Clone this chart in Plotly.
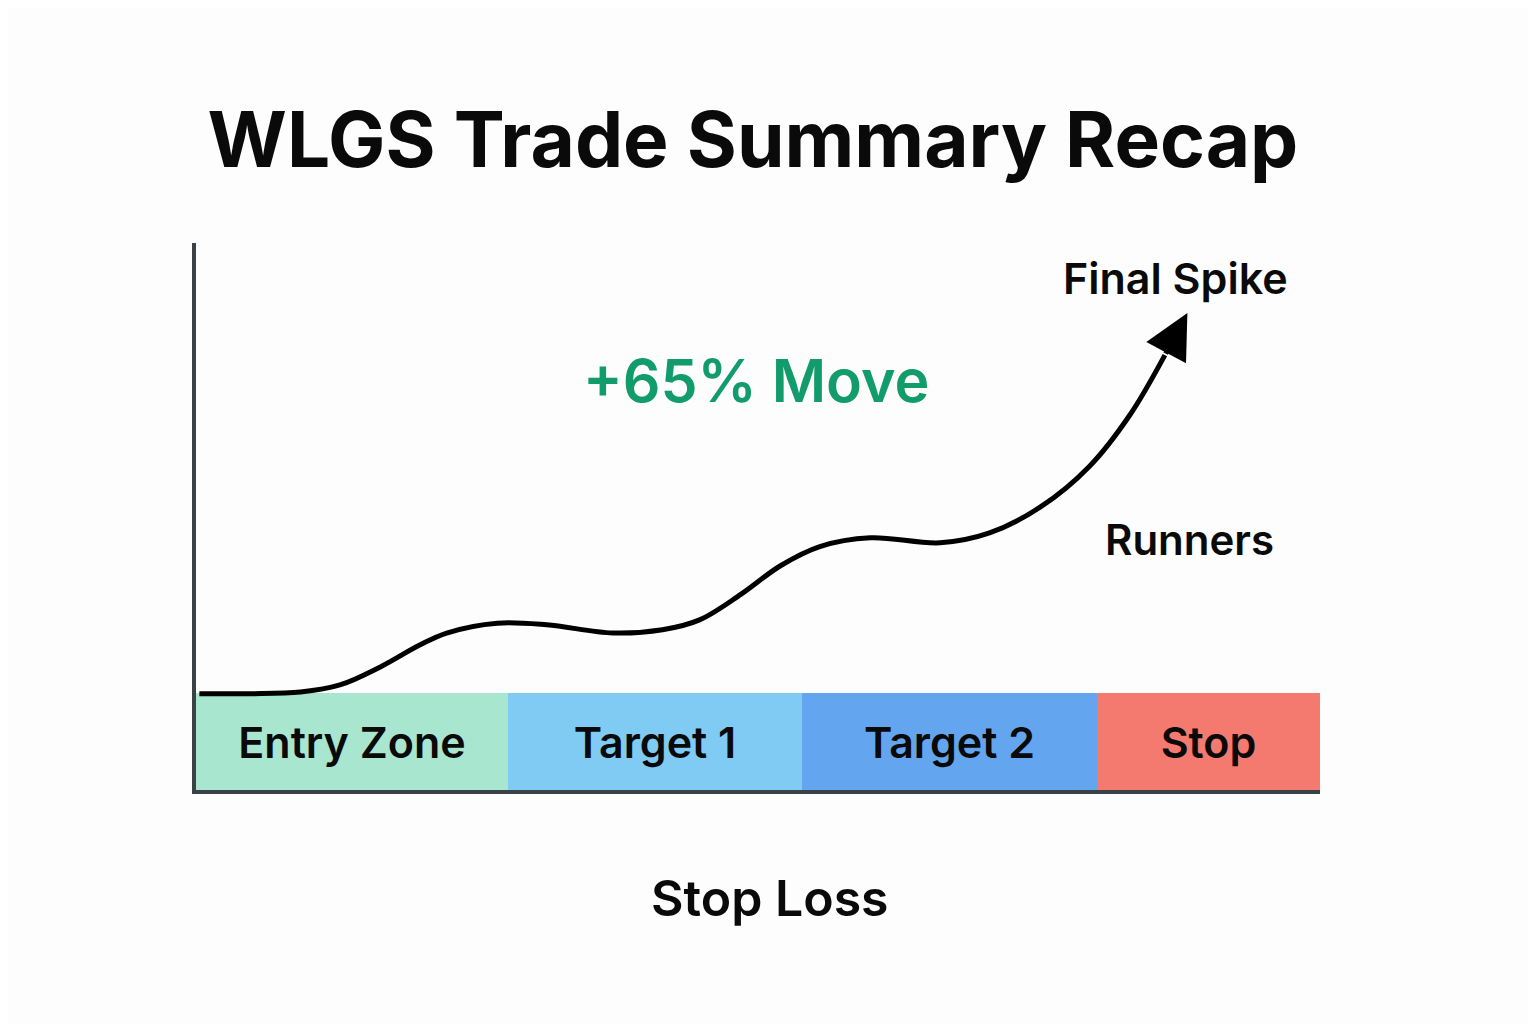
import plotly.graph_objects as go

# ---- data ----
zone_labels = ["Entry Zone", "Target 1", "Target 2", "Stop"]
zone_starts = [0.0, 27.8, 53.9, 80.2]
zone_ends = [27.8, 53.9, 80.2, 100.0]
zone_height = [17.7, 17.7, 17.7, 17.7]
zone_colors = ["#a8e6cf", "#7fcbf3", "#63a5ee", "#f47a70"]

price_x = [0.3, 4.8, 9.3, 12.8, 16.4, 19.9, 22.3, 26.8, 31.2, 37.1, 41.5, 44.8,
           48.5, 52.0, 55.5, 60.0, 66.2, 70.6, 75.1, 79.5, 83.1, 86.2]
price_y = [17.6, 17.6, 17.9, 19.2, 22.5, 26.5, 28.7, 30.5, 30.2, 28.7, 29.3, 31.1,
           35.8, 41.0, 44.5, 46.1, 45.2, 47.0, 51.7, 59.2, 68.6, 79.5]
arrow_tip = (88.2, 87.2)

FONT = "Inter"

fig = go.Figure()

zone_mid = [(s + e) / 2 for s, e in zip(zone_starts, zone_ends)]
zone_w = [e - s for s, e in zip(zone_starts, zone_ends)]
fig.add_trace(go.Bar(
    x=zone_mid, y=zone_height, width=zone_w, base=0,
    marker=dict(color=zone_colors, line=dict(width=0)),
    text=zone_labels, textposition="inside", insidetextanchor="middle",
    textfont=dict(family=FONT, size=43, color="#0a0a0a", weight=600),
    textangle=0, cliponaxis=False, showlegend=False, hoverinfo="skip",
))

fig.add_trace(go.Scatter(
    x=price_x, y=price_y, mode="lines",
    line=dict(color="#000000", width=5, shape="spline", smoothing=1.0),
    showlegend=False, hoverinfo="skip",
))

fig.add_annotation(
    x=arrow_tip[0], y=arrow_tip[1], ax=price_x[-1], ay=price_y[-1],
    xref="x", yref="y", axref="x", ayref="y",
    showarrow=True, arrowhead=2, arrowsize=1.8, arrowwidth=5, arrowcolor="#000000",
    text="",
)

texts = [
    dict(text="+65% Move", x=49.8, y=74.9, size=59, color="#129b6b"),
    dict(text="Final Spike", x=87.1, y=93.6, size=43, color="#0a0a0a"),
    dict(text="Runners", x=88.4, y=45.8, size=42, color="#0a0a0a"),
]
for t in texts:
    fig.add_annotation(x=t["x"], y=t["y"], xref="x", yref="y", text=t["text"],
                       showarrow=False,
                       font=dict(family=FONT, size=t["size"], color=t["color"], weight=600))

fig.add_annotation(x=0.511, y=-(898 - 790) / (790 - 243), xref="paper", yref="paper",
                   yanchor="middle", text="Stop Loss", showarrow=False,
                   font=dict(family=FONT, size=50, color="#0a0a0a", weight=600))

fig.update_layout(
    width=1536, height=1024,
    paper_bgcolor="#fdfdfd", plot_bgcolor="#fdfdfd",
    margin=dict(l=188, r=224, t=235, b=242),
    title=dict(text="WLGS Trade Summary Recap", x=0.485, xanchor="center", y=1 - 132 / 1024, yanchor="middle",
               font=dict(family=FONT, size=76.5, color="#0a0a0a", weight=700)),
    xaxis=dict(range=[0, 100], showgrid=False, zeroline=False, showticklabels=False, ticks="",
               showline=True, linecolor="#3a4246", linewidth=4),
    yaxis=dict(range=[0, 100], showgrid=False, zeroline=False, showticklabels=False, ticks="",
               showline=True, linecolor="#3a4246", linewidth=4),
    bargap=0,
)

fig.write_html("out.html")
